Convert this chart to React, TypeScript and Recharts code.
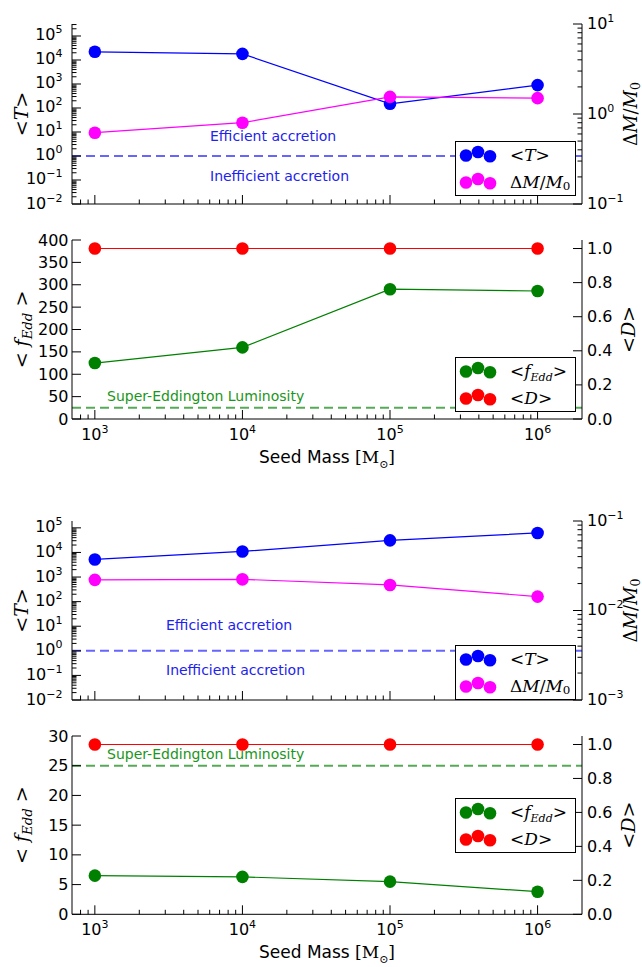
import React from 'react';
import { LineChart, Line, XAxis, YAxis, ReferenceLine, Legend } from 'recharts';

// seed masses [Msun]
const seedMass = [1e3, 1e4, 1e5, 1e6];

// high density run
const highTau = [2.2e4, 1.8e4, 150, 900];
const highDeltaM = [0.62, 0.8, 1.55, 1.5];
const highFEdd = [125, 160, 290, 286];
const highDuty = [1.0, 1.0, 1.0, 1.0];

// low density run
const lowTau = [5.2e3, 1.1e4, 3.1e4, 6.2e4];
const lowDeltaM = [0.022, 0.0223, 0.0193, 0.0143];
const lowFEdd = [6.5, 6.3, 5.5, 3.8];
const lowDuty = [1.0, 1.0, 1.0, 1.0];

// linear tick labels
const highFEddTicks = [0, 50, 100, 150, 200, 250, 300, 350, 400];
const lowFEddTicks = [0, 5, 10, 15, 20, 25, 30];
const dutyTicks = [0, 0.2, 0.4, 0.6, 0.8, 1.0];

const massDomain: [number, number] = [700, 2e6];

const SANS = '"DejaVu Sans", sans-serif';
const SERIF = '"DejaVu Serif", serif';
const FS = 16;

const highRows = seedMass.map((m, i) => ({ mass: m, tau: highTau[i], dm: highDeltaM[i], fEdd: highFEdd[i], duty: highDuty[i] }));
const lowRows = seedMass.map((m, i) => ({ mass: m, tau: lowTau[i], dm: lowDeltaM[i], fEdd: lowFEdd[i], duty: lowDuty[i] }));

// decades plus 2..9 minors inside [lo, hi]
function logTicks(lo: number, hi: number) {
    const out: number[] = [];
    for (let e = Math.floor(Math.log10(lo)); e <= Math.ceil(Math.log10(hi)); e++) {
        for (let k = 1; k <= 9; k++) {
            const v = k * Math.pow(10, e);
            if (v >= lo * 0.999 && v <= hi * 1.001) out.push(v);
        }
    }
    return out;
}

const isDecade = (v: number) => Math.abs(Math.log10(v) - Math.round(Math.log10(v))) < 1e-6;
const expOf = (v: number) => {
    const e = Math.round(Math.log10(v));
    return e < 0 ? '\u2212' + Math.abs(e) : String(e);
};

const xTicks = logTicks(massDomain[0], massDomain[1]).filter((v) => v > 701 && v < 1.99e6);

const MAJ = 9;
const MIN = 4.5;

const bottomTick = (labels: boolean) => (p: any) => {
    const v = p.payload.value;
    const major = isDecade(v);
    return (
        <g>
            <line x1={p.x} x2={p.x} y1={p.y} y2={p.y - (major ? MAJ : MIN)} stroke="#000" />
            {labels && major && (
                <text x={p.x} y={p.y + 20.5} textAnchor="middle" fontSize={FS} fontFamily={SANS} fill="#000">
                    10<tspan dy={-7} fontSize={11}>{expOf(v)}</tspan>
                </text>
            )}
        </g>
    );
};

const topTick = (p: any) => {
    const major = isDecade(p.payload.value);
    return <line x1={p.x} x2={p.x} y1={p.y} y2={p.y + (major ? MAJ : MIN)} stroke="#000" />;
};

const leftLogTick = (p: any) => {
    const v = p.payload.value;
    const major = isDecade(v);
    return (
        <g>
            <line x1={p.x} x2={p.x + (major ? MAJ : MIN)} y1={p.y} y2={p.y} stroke="#000" />
            {major && (
                <text x={p.x - 9.5} y={p.y + 4.5} textAnchor="end" fontSize={FS} fontFamily={SANS} fill="#000">
                    10<tspan dy={-7} fontSize={11}>{expOf(v)}</tspan>
                </text>
            )}
        </g>
    );
};

const rightLogTick = (p: any) => {
    const v = p.payload.value;
    const major = isDecade(v);
    return (
        <g>
            <line x1={p.x} x2={p.x - (major ? MAJ : MIN)} y1={p.y} y2={p.y} stroke="#000" />
            {major && (
                <text x={p.x + 5} y={p.y + 4.5} textAnchor="start" fontSize={FS} fontFamily={SANS} fill="#000">
                    10<tspan dy={-7} fontSize={11}>{expOf(v)}</tspan>
                </text>
            )}
        </g>
    );
};

const leftLinTick = (p: any) => (
    <g>
        <line x1={p.x} x2={p.x + MAJ} y1={p.y} y2={p.y} stroke="#000" />
        <text x={p.x - 3.5} y={p.y + 5.5} textAnchor="end" fontSize={FS} fontFamily={SANS} fill="#000">
            {p.payload.value}
        </text>
    </g>
);

const rightLinTick = (p: any) => (
    <g>
        <line x1={p.x} x2={p.x - MAJ} y1={p.y} y2={p.y} stroke="#000" />
        <text x={p.x + 5} y={p.y + 5.5} textAnchor="start" fontSize={FS} fontFamily={SANS} fill="#000">
            {Number(p.payload.value).toFixed(1)}
        </text>
    </g>
);

const tauText = (
    <>
        {'<'}
        <tspan fontStyle="italic">T</tspan>
        {'>'}
    </>
);
const dmText = (
    <>
        {'\u0394'}
        <tspan fontStyle="italic">M</tspan>/<tspan fontStyle="italic">M</tspan>
        <tspan dy={2.5} fontSize="0.7em">0</tspan>
    </>
);
const fEddAxisText = (
    <>
        {'< '}
        <tspan fontStyle="italic">f</tspan>
        <tspan dy={4} fontSize="0.7em" fontStyle="italic">Edd</tspan>
        <tspan dy={-4}>{' >'}</tspan>
    </>
);
const fEddLegendText = (
    <>
        {'<'}
        <tspan fontStyle="italic">f</tspan>
        <tspan dy={4} fontSize="0.65em" fontStyle="italic">Edd</tspan>
        <tspan dy={-4}>{'>'}</tspan>
    </>
);
const dutyText = (
    <>
        {'<'}
        <tspan fontStyle="italic">D</tspan>
        {'>'}
    </>
);

const legendNodes: Record<string, React.ReactNode> = { tau: tauText, dm: dmText, fEdd: fEddLegendText, duty: dutyText };
const legendOrder = ['tau', 'dm', 'fEdd', 'duty'];

const yTitle = (node: React.ReactNode, cx: number, size = 19) => (p: any) => {
    const vb = p.viewBox;
    const cy = vb.y + vb.height / 2;
    return (
        <text transform={`translate(${cx},${cy}) rotate(-90)`} textAnchor="middle" fontSize={size} fontFamily={SERIF} fill="#000">
            {node}
        </text>
    );
};

const titleLabel = (title: string) => (p: any) => {
    const vb = p.viewBox;
    return (
        <text x={vb.x + vb.width / 2} y={vb.y - 4.5} textAnchor="middle" fontSize={FS} fontFamily={SANS} fill="#000">
            {title}
        </text>
    );
};

const massLabel = (p: any) => {
    const vb = p.viewBox;
    return (
        <text x={vb.x + vb.width / 2} y={vb.y + 44} textAnchor="middle" fontSize={17} fontFamily={SANS} fill="#000">
            Seed Mass <tspan fontFamily={SERIF}>[M</tspan>
            <tspan fontFamily={SERIF} fontSize={11} dy={5}>{'\u2299'}</tspan>
            <tspan fontFamily={SERIF} dy={-5}>]</tspan>
        </text>
    );
};

const legendContent = (p: any) => {
    const items = [...(p.payload || [])].sort((a: any, b: any) => legendOrder.indexOf(a.dataKey) - legendOrder.indexOf(b.dataKey));
    return (
        <svg width={121} height={55} style={{ display: 'block' }}>
            <rect x={0.5} y={0.5} width={120} height={54} fill="#fff" stroke="#000" />
            {items.map((it: any, i: number) => {
                const cy = 14.5 + i * 27;
                return (
                    <g key={i}>
                        <circle cx={11} cy={cy} r={6.3} fill={it.color} />
                        <circle cx={23} cy={cy - 3.5} r={6.3} fill={it.color} />
                        <circle cx={35} cy={cy + 0.8} r={6.3} fill={it.color} />
                        <text x={55} y={cy + 5} fontSize={17} fontFamily={SERIF} fill="#000">
                            {legendNodes[it.dataKey]}
                        </text>
                    </g>
                );
            })}
        </svg>
    );
};

interface TauPanelProps {
    top: number;
    marginTop: number;
    plotH: number;
    title: string;
    rows: typeof highRows;
    tauDomain: [number, number];
    dmDomain: [number, number];
    textX: number;
    effDy: number;
    ineffDy: number;
    legendTop: number;
}

function TauPanel(p: TauPanelProps) {
    const xh = 10;
    return (
        <div style={{ position: 'absolute', left: 0, top: p.top }}>
            <LineChart width={642} height={p.marginTop + p.plotH + xh} data={p.rows} margin={{ top: p.marginTop, right: 0, bottom: 0, left: 0 }}>
                <XAxis xAxisId="b" dataKey="mass" type="number" scale="log" domain={massDomain} allowDataOverflow ticks={xTicks} interval={0} tickLine={false} tickSize={0} tickMargin={0} height={xh} axisLine={{ stroke: '#000' }} tick={bottomTick(false)} />
                <XAxis xAxisId="t" orientation="top" dataKey="mass" type="number" scale="log" domain={massDomain} allowDataOverflow ticks={xTicks} interval={0} tickLine={false} tickSize={0} tickMargin={0} height={0} axisLine={{ stroke: '#000' }} tick={topTick} label={titleLabel(p.title)} />
                <YAxis yAxisId="l" type="number" scale="log" domain={p.tauDomain} allowDataOverflow ticks={logTicks(p.tauDomain[0], p.tauDomain[1])} interval={0} tickLine={false} tickSize={0} tickMargin={0} width={72} axisLine={{ stroke: '#000' }} tick={leftLogTick} label={yTitle(tauText, 28)} />
                <YAxis yAxisId="r" orientation="right" type="number" scale="log" domain={p.dmDomain} allowDataOverflow ticks={logTicks(p.dmDomain[0], p.dmDomain[1])} interval={0} tickLine={false} tickSize={0} tickMargin={0} width={60} axisLine={{ stroke: '#000' }} tick={rightLogTick} label={yTitle(dmText, 637, 18)} />
                <ReferenceLine
                    xAxisId="b"
                    yAxisId="l"
                    y={1}
                    stroke="#6666ff"
                    strokeWidth={2}
                    strokeDasharray="9 5"
                    label={(lp: any) => {
                        const vb = lp.viewBox;
                        return (
                            <g fontSize={14} fontFamily={SANS} fill="#2222ee">
                                <text x={p.textX} y={vb.y + p.effDy}>Efficient accretion</text>
                                <text x={p.textX} y={vb.y + p.ineffDy}>Inefficient accretion</text>
                            </g>
                        );
                    }}
                />
                <Line xAxisId="b" yAxisId="l" dataKey="tau" name="tau" stroke="#0000ff" strokeWidth={1.2} dot={{ r: 6.3, fill: '#0000ff', strokeWidth: 0 }} activeDot={false} isAnimationActive={false} />
                <Line xAxisId="b" yAxisId="r" dataKey="dm" name="dm" stroke="#ff00ff" strokeWidth={1.2} dot={{ r: 6.3, fill: '#ff00ff', strokeWidth: 0 }} activeDot={false} isAnimationActive={false} />
                <Legend layout="vertical" align="center" verticalAlign="middle" content={legendContent} wrapperStyle={{ position: 'absolute', left: 455, top: p.legendTop, width: 121, height: 55 }} />
            </LineChart>
        </div>
    );
}

interface EddPanelProps {
    top: number;
    height: number;
    plotH: number;
    rows: typeof highRows;
    fDomain: [number, number];
    fTicks: number[];
    legendTop: number;
}

function EddPanel(p: EddPanelProps) {
    const mt = 10;
    const xh = p.height - mt - p.plotH;
    return (
        <div style={{ position: 'absolute', left: 0, top: p.top }}>
            <LineChart width={642} height={p.height} data={p.rows} margin={{ top: mt, right: 0, bottom: 0, left: 0 }}>
                <XAxis xAxisId="b" dataKey="mass" type="number" scale="log" domain={massDomain} allowDataOverflow ticks={xTicks} interval={0} tickLine={false} tickSize={0} tickMargin={0} height={xh} axisLine={{ stroke: '#000' }} tick={bottomTick(true)} label={massLabel} />
                <XAxis xAxisId="t" orientation="top" dataKey="mass" type="number" scale="log" domain={massDomain} allowDataOverflow ticks={xTicks} interval={0} tickLine={false} tickSize={0} tickMargin={0} height={0} axisLine={{ stroke: '#000' }} tick={topTick} />
                <YAxis yAxisId="l" type="number" domain={p.fDomain} allowDataOverflow ticks={p.fTicks} interval={0} tickLine={false} tickSize={0} tickMargin={0} width={72} axisLine={{ stroke: '#000' }} tick={leftLinTick} label={yTitle(fEddAxisText, 28)} />
                <YAxis yAxisId="r" orientation="right" type="number" domain={[0, 1.05]} allowDataOverflow ticks={dutyTicks} interval={0} tickLine={false} tickSize={0} tickMargin={0} width={60} axisLine={{ stroke: '#000' }} tick={rightLinTick} label={yTitle(dutyText, 635)} />
                <ReferenceLine
                    xAxisId="b"
                    yAxisId="l"
                    y={25}
                    stroke="#55aa55"
                    strokeWidth={2}
                    strokeDasharray="9 5"
                    label={(lp: any) => {
                        const vb = lp.viewBox;
                        return (
                            <text x={107} y={vb.y - 6.5} fontSize={14} fontFamily={SANS} fill="#1a961a">
                                Super-Eddington Luminosity
                            </text>
                        );
                    }}
                />
                <Line xAxisId="b" yAxisId="l" dataKey="fEdd" name="fEdd" stroke="#008000" strokeWidth={1.2} dot={{ r: 6.3, fill: '#008000', strokeWidth: 0 }} activeDot={false} isAnimationActive={false} />
                <Line xAxisId="b" yAxisId="r" dataKey="duty" name="duty" stroke="#ff0000" strokeWidth={1.2} dot={{ r: 6.3, fill: '#ff0000', strokeWidth: 0 }} activeDot={false} isAnimationActive={false} />
                <Legend layout="vertical" align="center" verticalAlign="middle" content={legendContent} wrapperStyle={{ position: 'absolute', left: 455, top: p.legendTop, width: 121, height: 55 }} />
            </LineChart>
        </div>
    );
}

export default function App() {
    return (
        <div style={{ position: 'absolute', left: 0, top: 0, width: 642, height: 967, background: '#fff', overflow: 'hidden' }}>
            <TauPanel top={0} marginTop={24} plotH={180} title="SLIM DISK ACCRETION - HIGH DENSITY" rows={highRows} tauDomain={[0.01, 3.16e5]} dmDomain={[0.1, 10]} textX={210} effDy={-15} ineffDy={25} legendTop={141} />
            <EddPanel top={230} height={245} plotH={179} rows={highRows} fDomain={[0, 400]} fTicks={highFEddTicks} legendTop={127} />
            <TauPanel top={490} marginTop={31} plotH={179} title="SLIM DISK ACCRETION - LOW DENSITY" rows={lowRows} tauDomain={[0.01, 1.9e5]} dmDomain={[0.001, 0.1]} textX={166} effDy={-21} ineffDy={24} legendTop={155} />
            <EddPanel top={726} height={241} plotH={178.3} rows={lowRows} fDomain={[0, 30]} fTicks={lowFEddTicks} legendTop={72} />
        </div>
    );
}
